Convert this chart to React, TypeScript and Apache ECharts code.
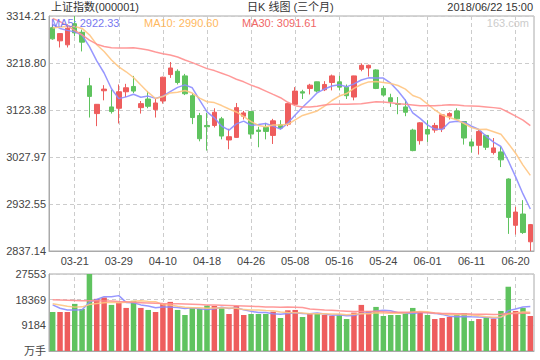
import React, { useEffect, useRef } from "react";
import * as echarts from "echarts";

const dates = [
  "03-16","03-19","03-20","03-21","03-22","03-23","03-26","03-27","03-28","03-29",
  "03-30","04-02","04-03","04-04","04-09","04-10","04-11","04-12","04-13","04-16",
  "04-17","04-18","04-19","04-20","04-23","04-24","04-25","04-26","04-27","05-02",
  "05-03","05-04","05-07","05-08","05-09","05-10","05-11","05-14","05-15","05-16",
  "05-17","05-18","05-21","05-22","05-23","05-24","05-25","05-28","05-29","05-30",
  "05-31","06-01","06-04","06-05","06-06","06-07","06-08","06-11","06-12","06-13",
  "06-14","06-15","06-19","06-20","06-21","06-22",
];

const xTickLabels = ["03-21","03-29","04-10","04-18","04-26","05-08","05-16","05-24","06-01","06-11","06-20"];

const opens = [
  3290.6,3263.8,3255.7,3298.6,3281.2,3172.5,3116.1,3162.4,3129.6,3126.9,
  3160.4,3171.2,3128.2,3145.7,3124.2,3141.6,3195.3,3202.0,3192.6,3152.4,
  3112.1,3092.0,3092.0,3105.4,3062.5,3067.8,3110.8,3120.2,3082.6,3087.9,
  3071.8,3093.3,3094.7,3134.9,3160.4,3167.1,3180.6,3164.4,3179.2,3180.6,
  3169.8,3149.7,3206.0,3208.7,3204.7,3167.1,3148.3,3136.3,3129.6,3082.6,
  3061.1,3083.9,3082.6,3085.3,3110.8,3121.5,3100.0,3058.5,3051.7,3071.8,
  3037.0,3038.3,2983.3,2889.3,2912.2,2855.8,
];
const closes = [
  3267.8,3278.5,3289.3,3279.9,3261.1,3151.0,3134.9,3165.8,3120.2,3160.4,
  3168.5,3161.8,3136.3,3130.9,3137.6,3190.0,3208.7,3179.2,3156.4,3108.1,
  3065.1,3089.3,3118.8,3070.5,3069.2,3128.2,3117.5,3074.5,3079.9,3079.9,
  3101.4,3086.6,3136.3,3161.8,3157.7,3173.8,3161.8,3175.2,3192.6,3169.8,
  3152.4,3192.6,3214.1,3214.1,3167.1,3153.7,3140.3,3134.9,3118.8,3041.0,
  3097.3,3074.5,3092.0,3113.5,3116.1,3105.4,3066.5,3050.4,3079.9,3047.7,
  3046.4,3022.2,2905.4,2916.2,2874.6,2890.7,
];
const lows = [
  3266.0,3250.3,3250.3,3273.0,3242.3,3108.1,3090.6,3143.0,3116.1,3096.0,
  3149.7,3157.7,3116.1,3126.9,3108.1,3136.3,3188.6,3175.2,3153.7,3094.7,
  3059.8,3041.0,3088.0,3063.8,3043.7,3067.0,3104.1,3065.1,3047.7,3063.8,
  3054.4,3084.0,3090.6,3132.3,3145.7,3155.0,3159.1,3161.8,3163.1,3163.1,
  3145.7,3143.0,3202.0,3191.3,3165.8,3151.0,3129.6,3114.8,3110.8,3039.6,
  3053.1,3058.5,3077.2,3078.6,3104.1,3104.1,3053.1,3037.0,3032.9,3042.3,
  3032.9,3007.5,2871.9,2870.5,2871.9,2837.14,
];
const highs = [
  3297.0,3279.5,3297.3,3314.21,3286.6,3188.6,3135.5,3173.8,3164.4,3175.2,
  3176.5,3192.6,3141.6,3161.8,3145.7,3191.0,3220.8,3206.0,3196.7,3157.7,
  3117.5,3117.5,3126.9,3109.4,3085.3,3137.6,3121.5,3121.0,3089.3,3097.3,
  3105.4,3102.7,3137.0,3169.8,3164.4,3176.5,3181.0,3181.9,3195.3,3192.6,
  3175.2,3193.0,3218.1,3215.5,3206.0,3172.5,3156.4,3149.7,3144.3,3085.3,
  3098.7,3102.7,3097.3,3114.8,3118.8,3126.9,3101.0,3065.1,3082.6,3073.2,
  3066.5,3049.0,2984.6,2926.9,2940.4,2892.0,
];

const ma5 = [
  3297,3289,3285,3282,3275.4,3252.0,3223.2,3198.5,3166.6,3146.5,
  3150.0,3155.3,3149.4,3151.6,3147.0,3151.3,3160.7,3169.3,3174.4,3168.5,
  3143.5,3119.6,3107.5,3090.4,3082.6,3095.2,3100.8,3092.0,3093.9,3096.0,
  3090.6,3084.5,3096.8,3113.2,3128.8,3143.2,3158.3,3166.1,3172.2,3174.6,
  3170.4,3176.5,3184.3,3188.6,3188.1,3188.3,3177.9,3162.0,3143.0,3117.7,
  3106.5,3093.3,3084.7,3083.7,3098.7,3100.3,3098.7,3090.4,3083.7,3070.0,
  3058.2,3049.3,3020.3,2987.6,2953.0,2922.33,
];
const ma10 = [
  3290,3292,3293,3293,3289,3276,3256,3242,3225,3210.9,
  3201.0,3189.3,3174.0,3159.1,3146.7,3150.6,3158.0,3159.4,3163.0,3157.8,
  3147.4,3140.2,3138.4,3132.4,3125.5,3119.4,3110.2,3099.8,3092.1,3089.3,
  3092.9,3092.7,3094.4,3103.5,3112.4,3116.9,3121.4,3131.4,3142.7,3151.7,
  3156.8,3167.4,3175.2,3180.4,3181.4,3179.3,3177.2,3173.2,3165.8,3152.9,
  3147.4,3135.6,3123.4,3113.3,3108.2,3103.4,3096.0,3087.6,3083.7,3084.3,
  3079.2,3074.0,3055.4,3035.6,3011.5,2990.60,
];
const ma30 = [
  3309.4,3302.7,3294.0,3285.2,3275.8,3265.1,3257.0,3252.4,3249.7,3249.0,
  3249.0,3249.7,3247.7,3245.0,3241.0,3237.6,3234.9,3230.9,3224.8,3219.5,
  3213.4,3207.4,3203.4,3198.0,3192.6,3185.9,3180.6,3173.8,3168.5,3161.8,
  3155.0,3148.3,3139.0,3132.2,3129.6,3129.6,3130.9,3133.6,3134.9,3134.9,
  3134.9,3135.6,3136.3,3138.3,3140.3,3139.6,3138.3,3136.3,3134.9,3133.6,
  3132.2,3132.2,3132.2,3132.9,3134.2,3133.6,3132.2,3131.6,3130.9,3129.6,
  3128.2,3126.2,3118.8,3110.8,3102.7,3091.61,
];

const volumes = [
  13966,13966,13966,16856,15050,27553,18662,19144,16495,17217,
  15411,17940,15411,14689,13966,16856,17578,14689,12883,15411,
  15050,16254,16134,15411,13244,16134,12883,13244,13244,13244,
  14087,11799,14568,14689,12160,13244,13244,12883,12642,12762,
  11438,13726,16495,14328,15772,12522,12883,12883,13605,15411,
  13966,12883,11438,11799,12160,12883,13605,10716,11438,11920,
  11558,14328,22996,14328,15411,12522,
];
const volMa5 = [
  16500,15300,14700,14700,14761,17478,18417,19453,19381,19814,
  17386,17241,16495,16134,15483,15772,15700,15556,15194,15483,
  15122,14857,15146,15652,15219,15435,14761,14183,13750,13750,
  13340,13124,13388,13677,13461,13292,13581,13244,12835,12955,
  12594,12690,13413,13750,14352,14569,14400,13678,13533,13461,
  13750,13750,13461,13099,12449,12233,12377,12233,12160,12112,
  11847,11992,14448,15026,15724,15917,
];
const volMa10 = [
  16900,16500,16000,15700,15800,16600,17000,17300,17400,17288,
  17432,17829,17974,17757,17649,16579,16471,16025,15664,15483,
  15447,15279,15351,15423,15351,15279,14809,14665,14701,14484,
  14388,13942,13786,13714,13605,13316,13352,13316,13256,13208,
  12943,13136,13328,13292,13653,13581,13545,13545,13641,13906,
  14159,14075,13569,13316,12955,12991,13063,12847,12630,12281,
  12040,12185,13340,13593,13918,13882,
];
const volMa30 = [
  18300,18250,18200,18100,18000,18000,17950,17900,17850,17700,
  17600,17400,17300,17200,17100,17000,16950,16900,16800,16700,
  16600,16500,16450,16400,16300,16200,16100,16000,15900,15752,
  15756,15684,15704,15631,15535,15058,14877,14669,14540,14392,
  14259,14119,14155,14143,14203,14059,13902,13842,13866,13866,
  13830,13718,13561,13441,13405,13296,13320,13236,13176,13132,
  13047,13132,13413,13401,13509,13485,
];

const PRICE_MIN = 2837.14;
const PRICE_MAX = 3314.21;
const VOL_MAX = 27553;

const RED = "#ee5d5d";
const GREEN = "#5fc35f";
const C_MA5 = "#8c8cff";
const C_MA10 = "#ffc582";
const C_MA30 = "#ff8e8e";
const FONT = '"Liberation Sans", Arial, "Noto Sans CJK SC", sans-serif';

export default function App() {
  const ref = useRef<HTMLDivElement>(null);

  useEffect(() => {
    if (!ref.current) return;
    const chart = echarts.init(ref.current, null, { renderer: "svg" });
    const span = PRICE_MAX - PRICE_MIN;
    const off = (v: number) => +(v - PRICE_MIN).toFixed(4);
    const candleData = dates.map((_, i) => [off(opens[i]), off(closes[i]), off(lows[i]), off(highs[i])]);
    const volData = volumes.map((v, i) => ({
      value: v,
      itemStyle: { color: closes[i] >= opens[i] ? RED : GREEN },
    }));
    const vGrid = {
      symbol: ["none", "none"],
      silent: true,
      z: 1,
      animation: false,
      label: { show: false },
      lineStyle: { color: "#cccccc", type: [4, 3], width: 1 },
      data: xTickLabels.map((d) => ({ xAxis: d })),
    };
    const lineS = (name: string, data: number[], color: string, x: number, y: number, offset: boolean) => ({
      name,
      type: "line",
      xAxisIndex: x,
      yAxisIndex: y,
      data: offset ? data.map(off) : data,
      symbol: "none",
      smooth: false,
      silent: true,
      z: 3,
      lineStyle: { color, width: 1.5, opacity: 0.9 },
    });
    const labelStyle = { fontSize: 11, color: "#444", fontFamily: FONT };

    chart.setOption({
      animation: false,
      grid: [
        { left: 49, right: 6, top: 16, height: 235, show: true, borderColor: "#aaaaaa", borderWidth: 1 },
        { left: 49, right: 6, top: 274, height: 77, show: true, borderColor: "#aaaaaa", borderWidth: 1 },
      ],
      xAxis: [
        {
          type: "category",
          gridIndex: 0,
          data: dates,
          boundaryGap: true,
          axisLine: { lineStyle: { color: "#aaaaaa" } },
          axisTick: { show: false },
          splitLine: { show: false },
          axisLabel: {
            ...labelStyle,
            margin: 4,
            interval: (_i: number, v: string) => xTickLabels.includes(v),
          },
        },
        {
          type: "category",
          gridIndex: 1,
          data: dates,
          boundaryGap: true,
          axisLine: { lineStyle: { color: "#aaaaaa" } },
          axisTick: { show: false },
          splitLine: { show: false },
          axisLabel: { show: false },
        },
      ],
      yAxis: [
        {
          type: "value",
          gridIndex: 0,
          min: 0,
          max: +span.toFixed(4),
          interval: +(span / 5).toFixed(4),
          axisLine: { show: true, lineStyle: { color: "#aaaaaa" } },
          axisTick: { show: false },
          splitLine: { lineStyle: { color: "#cccccc", type: [4, 3] } },
          axisLabel: {
            ...labelStyle,
            margin: 3,
            showMinLabel: true,
            showMaxLabel: true,
            formatter: (v: number) => (v + PRICE_MIN).toFixed(2),
          },
        },
        {
          type: "value",
          gridIndex: 1,
          min: 0,
          max: VOL_MAX,
          interval: VOL_MAX / 3,
          axisLine: { show: true, lineStyle: { color: "#aaaaaa" } },
          axisTick: { show: false },
          splitLine: { lineStyle: { color: "#cccccc", type: [4, 3] } },
          axisLabel: {
            ...labelStyle,
            margin: 3,
            showMinLabel: true,
            showMaxLabel: true,
            formatter: (v: number) => (v === 0 ? "万手" : String(Math.round(v))),
          },
        },
      ],
      series: [
        {
          name: "K",
          type: "candlestick",
          xAxisIndex: 0,
          yAxisIndex: 0,
          data: candleData,
          barWidth: 5,
          z: 2,
          itemStyle: {
            color: RED,
            color0: GREEN,
            borderColor: RED,
            borderColor0: GREEN,
            borderWidth: 1,
          },
          markLine: vGrid,
        },
        lineS("MA5", ma5, C_MA5, 0, 0, true),
        lineS("MA10", ma10, C_MA10, 0, 0, true),
        lineS("MA30", ma30, C_MA30, 0, 0, true),
        {
          name: "VOL",
          type: "bar",
          xAxisIndex: 1,
          yAxisIndex: 1,
          data: volData,
          barWidth: 5.5,
          z: 2,
          markLine: vGrid,
        },
        lineS("VMA5", volMa5, C_MA5, 1, 1, false),
        lineS("VMA10", volMa10, C_MA10, 1, 1, false),
        lineS("VMA30", volMa30, C_MA30, 1, 1, false),
      ],
      graphic: [
        { type: "text", x: 51, y: 7, z: 10, style: { text: "上证指数(000001)", fill: "#333", font: `11px ${FONT}`, align: "left", verticalAlign: "middle" } },
        { type: "text", x: 247, y: 7, z: 10, style: { text: "日K 线图 (三个月)", fill: "#333", font: `11px ${FONT}`, align: "left", verticalAlign: "middle" } },
        { type: "text", x: 533, y: 7, z: 10, style: { text: "2018/06/22 15:00", fill: "#333", font: `11px ${FONT}`, align: "right", verticalAlign: "middle" } },
        { type: "text", x: 51, y: 23, z: 10, style: { text: `MA5: ${ma5[ma5.length - 1].toFixed(2)}`, fill: "#7878f0", font: `11px ${FONT}`, align: "left", verticalAlign: "middle" } },
        { type: "text", x: 144, y: 23, z: 10, style: { text: `MA10: ${ma10[ma10.length - 1].toFixed(2)}`, fill: "#ffb860", font: `11px ${FONT}`, align: "left", verticalAlign: "middle" } },
        { type: "text", x: 242, y: 23, z: 10, style: { text: `MA30: ${ma30[ma30.length - 1].toFixed(2)}`, fill: "#f06666", font: `11px ${FONT}`, align: "left", verticalAlign: "middle" } },
        { type: "text", x: 529, y: 23, z: 10, style: { text: "163.com", fill: "#cccccc", font: `11px ${FONT}`, align: "right", verticalAlign: "middle" } },
      ],
    });
    return () => chart.dispose();
  }, []);

  return (
    <div
      ref={ref}
      style={{ position: "fixed", left: 0, top: 0, width: 540, height: 360, background: "#fff" }}
    />
  );
}
